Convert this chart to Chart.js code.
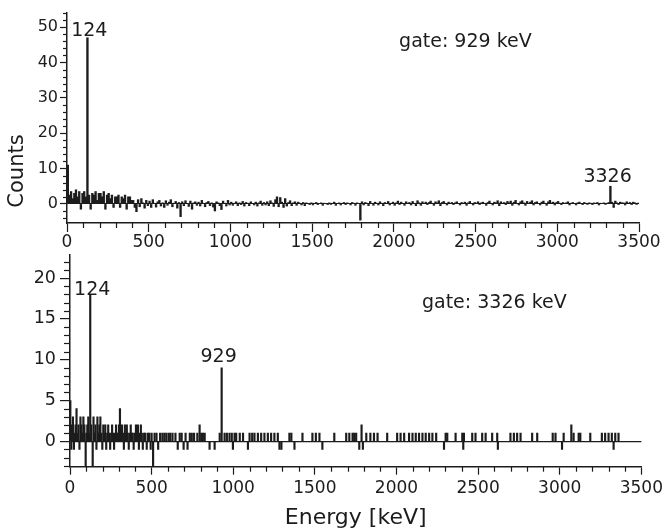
<!DOCTYPE html>
<html>
<head>
<meta charset="utf-8">
<script src="https://cdn.jsdelivr.net/npm/chart.js@4.4.1/dist/chart.umd.min.js"></script>
<style>
  html, body { margin: 0; padding: 0; background: #ffffff; width: 667px; height: 532px; overflow: hidden; }
  #wrapTop { position: absolute; left: 0; top: 0; width: 667px; height: 250px; }
  #wrapBot { position: absolute; left: 0; top: 240px; width: 667px; height: 292px; }
  canvas { display: block; }
</style>
</head>
<body>
<div id="wrapTop"><canvas id="topChart" width="667" height="250"></canvas></div>
<div id="wrapBot"><canvas id="botChart" width="667" height="292"></canvas></div>
<script>
// ---------------- DATA ----------------
// Top spectrum (gate: 929 keV): counts per 10 keV bin, starting at 0 keV
const topBinWidthKeV = 10;
const topCounts = [
  11, 2.5, 3.5, 1.5, 3, 4, 2, 3.5, -1.5, 3,
  3.5, 2, 47, 2.5, -1.5, 3, 2.5, 3.5, 1, 3,
  3, 2, 3.5, -1.5, 2.5, 3, 1.5, 2.5, -1, 2,
  2, 2.5, -1, 2, 1.5, 2.5, -1.5, 2, 2, 1,
  1, -1, -2.2, 1.2, -0.8, 1.5, 0.3, -1.2, 1, -0.5,
  0.8, -1, 1.2, 0.2, -0.9, 0.6, 1, -0.6, 0.3, -1,
  0.9, -0.4, 0.5, 1.2, -0.8, 0.2, 0.7, -1.2, 0.4, -3.6,
  0.6, -0.5, 0.9, 0.1, -0.7, 0.8, -1.5, 0.3, 0.6, -0.4,
  0.5, -0.6, 1, 0.2, -0.8, 0.4, 0.7, -0.5, 0.3, -0.9,
  -2, 0.6, 0.3, -0.5, -1.6, 0.8, 0.2, -0.6, 1, -0.3,
  0.5, -0.4, 0.2, 0.6, -0.5, 0.3, -0.2, 0.7, -0.6, 0.4,
  0.2, -0.5, 0.6, 0.1, -0.3, 0.5, -0.6, 0.3, 0.8, -0.4,
  0.4, -0.3, 0.6, -0.5, 0.9, 0.3, -0.7, 1.2, 2, -0.8,
  1.8, 0.5, -1, 1.5, -0.6, 0.4, 0.9, -0.5, 0.3, 0.6,
  -0.4, 0.5, 0.2, -0.3, 0.4, -0.5, 0.3, 0.1, -0.2, 0.3,
  -0.3, 0.2, 0.4, -0.2, 0.1, 0.3, -0.4, 0.2, 0.1, -0.2,
  0.3, -0.1, 0.2, 0.5, -0.4, 0.1, 0.3, -0.3, 0.2, 0.4,
  -0.2, 0.3, 0.1, -0.3, 0.4, 0.2, -0.4, 0.3, 0.1, -4.6,
  0.6, -0.3, 0.4, 0.2, -0.5, 0.7, 0.1, -0.4, 0.5, 0.2,
  -0.3, 0.6, 0.2, -0.5, 0.4, 0.1, 0.7, -0.3, 0.2, 0.5,
  -0.4, 0.3, 0.8, -0.2, 0.5, 0.1, -0.4, 0.6, 0.2, 0.4,
  -0.3, 0.7, 0.2, -0.5, 0.9, 0.3, -0.4, 0.6, 0.1, 0.5,
  -0.2, 0.4, 0.8, 0.2, -0.4, 0.6, 0.3, 0.9, -0.5, 0.4,
  0.7, 0.2, -0.3, 0.5, 0.1, 0.4, -0.2, 0.3, 0.6, 0.1,
  -0.3, 0.4, 0.2, 0.5, -0.4, 0.3, 0.7, 0.1, -0.3, 0.4,
  0.2, 0.6, -0.2, 0.3, 0.5, 0.1, -0.4, 0.4, 0.8, 0.2,
  -0.3, 0.5, 0.3, 0.9, -0.5, 0.6, 0.2, 0.4, -0.2, 0.7,
  0.3, 0.8, -0.4, 0.5, 1, 0.2, -0.3, 0.6, 0.9, 0.3,
  -0.4, 0.7, 0.2, 0.5, 0.9, -0.3, 0.4, 0.6, 0.1, -0.3,
  0.5, 0.8, 0.2, -0.4, 0.6, 1, 0.3, 0.5, -0.3, 0.4,
  0.7, 0.2, -0.2, 0.4, 0.1, 0.3, 0.6, -0.3, 0.2, 0.4,
  0.1, -0.3, 0.3, 0.5, 0.1, -0.2, 0.4, 0.2, -0.1, 0.3,
  0.2, -0.2, 0.3, 0.1, 0.4, -0.3, 0.2, 0.1, 0.3, -0.1,
  0.2, 0.4, 5, 0.5, -1, 0.8, 0.3, -0.2, 0.5, 0.3,
  0.3, -0.3, 0.6, 0.2, 0.4, -0.2, 0.5, 0.3, -0.1, 0.2
];

// Bottom spectrum (gate: 3326 keV): non-empty channels (energy in keV, counts)
const bottomEnergies = [
  2, 8, 12, 18, 24, 28, 34, 40, 46, 52,
  58, 64, 70, 76, 82, 88, 96, 100, 106, 112,
  118, 124, 130, 139, 144, 150, 156, 162, 168, 174,
  180, 186, 192, 198, 204, 210, 216, 222, 228, 234,
  240, 246, 252, 258, 264, 270, 276, 282, 288, 294,
  300, 306, 312, 318, 324, 330, 336, 342, 348, 354,
  360, 366, 372, 378, 384, 390, 396, 404, 410, 416,
  422, 428, 434, 440, 446, 454, 462, 470, 478, 486,
  494, 500, 509, 518, 530, 540, 552, 566, 578, 590,
  604, 614, 628, 646, 660, 672, 684, 696, 708, 720,
  734, 746, 760, 780, 794, 804, 814, 825, 855, 886,
  917, 929, 947, 961, 977, 991, 998, 1008, 1018, 1040,
  1060, 1090, 1100, 1116, 1130, 1151, 1171, 1191, 1212, 1232,
  1252, 1273, 1283, 1295, 1344, 1356, 1375, 1424, 1485, 1506,
  1528, 1546, 1619, 1692, 1711, 1731, 1741, 1753, 1772, 1786,
  1794, 1815, 1840, 1862, 1884, 1943, 2004, 2025, 2047, 2077,
  2098, 2118, 2138, 2159, 2179, 2200, 2220, 2243, 2291, 2301,
  2311, 2362, 2403, 2409, 2413, 2464, 2484, 2525, 2546, 2586,
  2617, 2621, 2698, 2719, 2739, 2760, 2831, 2862, 2957, 2974,
  3014, 3024, 3071, 3085, 3116, 3126, 3187, 3258, 3278, 3299,
  3319, 3330, 3340, 3360
];
const bottomCounts = [
  5, -1, 2, 3, -1, 1, 2, 4, 1, 2,
  -1, 3, 2, 1, 3, 2, -3, 1, 2, 3,
  1, 18, 2, -3, 3, 1, 2, -1, 3, 1,
  2, 3, 1, -1, 2, 1, 2, -1, 1, 2,
  1, -1, 1, 2, 1, -1, 1, 2, 1, 1,
  2, 4, 1, 2, 1, -1, 2, 1, 2, 1,
  -1, 1, 2, 1, 1, -1, 1, 2, 1, 2,
  -1, 1, 2, 1, -1, 1, 1, -1, 1, 1,
  -1, 1, -3, 1, 1, -1, 1, 1, 1, 1,
  1, 1, 1, 1, -1, 1, 1, -1, 1, -1,
  1, 1, 1, 1, 2, 1, 1, 1, -1, -1,
  1, 9, 1, 1, 1, 1, -1, 1, 1, 1,
  1, -1, 1, 1, 1, 1, 1, 1, 1, 1,
  1, 1, -1, -1, 1, 1, -1, 1, 1, 1,
  1, -1, 1, 1, 1, 1, 1, 1, -1, 2,
  -1, 1, 1, 1, 1, 1, 1, 1, 1, 1,
  1, 1, 1, 1, 1, 1, 1, 1, -1, 1,
  1, 1, 1, -1, 1, 1, 1, 1, 1, 1,
  1, -1, 1, 1, 1, 1, 1, 1, 1, 1,
  -1, 1, 2, 1, 1, 1, 1, 1, 1, 1,
  1, -1, 1, 1
];

// Peak annotations and gate labels
const topPeakEnergies = [124, 3326];
const topPeakLabels = ['124', '3326'];
const bottomPeakEnergies = [124, 929];
const bottomPeakLabels = ['124', '929'];
const gateLabels = ['gate: 929 keV', 'gate: 3326 keV'];
const yAxisTitle = 'Counts';
const xAxisTitle = 'Energy [keV]';

// ---------------- STYLE / HELPERS ----------------
const INK = '#1c1c1c';
const FONT = "'DejaVu Sans', 'Liberation Sans', sans-serif";
Chart.defaults.font.family = FONT;
Chart.defaults.color = INK;

const topPoints = topCounts.map((c, i) => ({ x: i * topBinWidthKeV + topBinWidthKeV / 2, y: c }));
const bottomPoints = bottomEnergies.map((e, i) => ({ x: e, y: bottomCounts[i] }));

function topPeakCount(e) { return topCounts[Math.floor(e / topBinWidthKeV)]; }
function bottomPeakCount(e) {
  let best = 0, bd = Infinity;
  bottomEnergies.forEach((v, i) => { const d = Math.abs(v - e); if (d < bd) { bd = d; best = i; } });
  return bottomCounts[best];
}

// minor tick marks drawn through the chart's own scales
const minorTicks = {
  id: 'minorTicks',
  afterDraw(chart, args, opts) {
    const ctx = chart.ctx;
    ctx.save();
    ctx.strokeStyle = INK;
    ctx.lineWidth = 1.2;
    for (const id of Object.keys(opts.scales || {})) {
      const cfg = opts.scales[id];
      const s = chart.scales[id];
      const k0 = Math.ceil(s.min / cfg.step - 1e-9), k1 = Math.floor(s.max / cfg.step + 1e-9);
      for (let k = k0; k <= k1; k++) {
        const v = k * cfg.step;
        const r = v / cfg.major;
        if (Math.abs(r - Math.round(r)) < 1e-9) continue;
        const p = Math.round(s.getPixelForValue(v)) + 0.5;
        ctx.beginPath();
        if (s.isHorizontal()) { ctx.moveTo(p, s.top); ctx.lineTo(p, s.top + cfg.length); }
        else { ctx.moveTo(s.right, p); ctx.lineTo(s.right - cfg.length, p); }
        ctx.stroke();
      }
    }
    ctx.restore();
  }
};

// text annotations anchored to data coordinates
const annotate = {
  id: 'annotate',
  afterDatasetsDraw(chart, args, opts) {
    const { ctx } = chart;
    const x = chart.scales.x, y = chart.scales.y;
    ctx.save();
    ctx.fillStyle = INK;
    ctx.textBaseline = 'alphabetic';
    (opts.peaks || []).forEach(p => {
      ctx.font = opts.peakFont;
      ctx.textAlign = 'center';
      ctx.fillText(p.text, x.getPixelForValue(p.energy) + p.dx, y.getPixelForValue(p.count) - p.gap);
    });
    if (opts.gate) {
      ctx.font = opts.gate.font;
      ctx.textAlign = 'left';
      ctx.fillText(opts.gate.text, x.getPixelForValue(opts.gate.energy), y.getPixelForValue(opts.gate.count));
    }
    if (opts.ytitle) {
      ctx.font = opts.ytitle.font;
      ctx.textAlign = 'center';
      ctx.textBaseline = 'middle';
      ctx.translate(y.left + opts.ytitle.dx, y.getPixelForValue(opts.ytitle.at));
      ctx.rotate(-Math.PI / 2);
      ctx.fillText(opts.ytitle.text, 0, 0);
    }
    ctx.restore();
  }
};

function xScale(opts) {
  return {
    type: 'linear', min: 0, max: 3500, offset: false,
    afterFit(s) { s.height = opts.height; },
    border: { display: true, color: INK, width: 1.5 },
    grid: { display: true, drawOnChartArea: false, offset: false, tickColor: INK, tickLength: opts.tickLength, tickWidth: 1.2 },
    ticks: { stepSize: 500, autoSkip: false, maxRotation: 0, padding: opts.padding, color: INK,
             font: { size: opts.fontSize, family: FONT }, callback: v => String(v) },
    title: opts.title ? { display: true, text: opts.title, color: INK, font: { size: 22, family: FONT },
             padding: { top: 0, bottom: opts.titlePad } } : { display: false }
  };
}

const zeroLine = c => (c.tick && c.tick.value === 0 ? INK : 'rgba(0,0,0,0)');

// ---------------- TOP CHART ----------------
new Chart(document.getElementById('topChart'), {
  type: 'bar',
  data: { datasets: [{ data: topPoints, backgroundColor: INK, borderWidth: 0, barThickness: 1.7 }] },
  options: {
    responsive: false, animation: false, events: [],
    layout: { padding: { top: 13, right: 28, left: 0, bottom: 0 } },
    plugins: {
      legend: { display: false }, tooltip: { enabled: false },
      minorTicks: { scales: { x: { step: 100, major: 500, length: 5 }, y: { step: 2, major: 10, length: 4 } } },
      annotate: {
        peakFont: '19px ' + FONT,
        peaks: [
          { text: topPeakLabels[0], energy: topPeakEnergies[0], count: topPeakCount(topPeakEnergies[0]), dx: 2, gap: 2 },
          { text: topPeakLabels[1], energy: topPeakEnergies[1], count: topPeakCount(topPeakEnergies[1]), dx: -3, gap: 4 }
        ],
        gate: { text: gateLabels[0], energy: 2032, count: 44.4, font: '19px ' + FONT },
        ytitle: { text: yAxisTitle, font: '21px ' + FONT, dx: 17.5, at: 9.3 }
      }
    },
    scales: {
      x: xScale({ height: 27, tickLength: 9, padding: 0, fontSize: 17 }),
      y: {
        type: 'linear', min: -5.4, max: 54,
        afterFit(s) { s.width = 67; },
        border: { display: true, color: INK, width: 1.5 },
        grid: { display: true, drawOnChartArea: true, color: zeroLine, lineWidth: 1,
                tickColor: INK, tickLength: 7, tickWidth: 1.2 },
        ticks: { stepSize: 10, includeBounds: false, padding: 2, color: INK, font: { size: 16, family: FONT } }
      }
    }
  },
  plugins: [minorTicks, annotate]
});

// ---------------- BOTTOM CHART ----------------
new Chart(document.getElementById('botChart'), {
  type: 'bar',
  data: { datasets: [{ data: bottomPoints, backgroundColor: INK, borderWidth: 0, barThickness: 1.5 }] },
  options: {
    responsive: false, animation: false, events: [],
    layout: { padding: { top: 10, right: 24, left: 0, bottom: 0 } },
    plugins: {
      legend: { display: false }, tooltip: { enabled: false },
      minorTicks: { scales: { x: { step: 100, major: 500, length: 5 }, y: { step: 1, major: 5, length: 6 } } },
      annotate: {
        peakFont: '19px ' + FONT,
        peaks: [
          { text: bottomPeakLabels[0], energy: bottomPeakEnergies[0], count: bottomPeakCount(bottomPeakEnergies[0]), dx: 2, gap: -1 },
          { text: bottomPeakLabels[1], energy: bottomPeakEnergies[1], count: bottomPeakCount(bottomPeakEnergies[1]), dx: -3, gap: 6 }
        ],
        gate: { text: gateLabels[1], energy: 2156, count: 16.3, font: '19px ' + FONT }
      }
    },
    scales: {
      x: xScale({ height: 65.3, tickLength: 8, padding: 4, fontSize: 17, title: xAxisTitle, titlePad: 1 }),
      y: {
        type: 'linear', min: -3.12, max: 22.9,
        afterFit(s) { s.width = 70; },
        border: { display: true, color: INK, width: 1.5 },
        grid: { display: true, drawOnChartArea: true, color: zeroLine,
                lineWidth: 1.2, tickColor: INK, tickLength: 10, tickWidth: 1.2 },
        ticks: { stepSize: 5, includeBounds: false, padding: 4, color: INK, font: { size: 17.5, family: FONT } }
      }
    }
  },
  plugins: [minorTicks, annotate]
});
</script>
</body>
</html>
